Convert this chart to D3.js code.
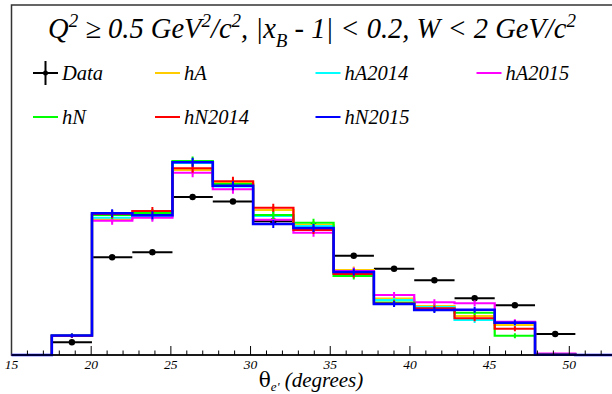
<!DOCTYPE html>
<meta charset="utf-8">
<title>theta e' distribution</title>
<style>
body { margin: 0; background: #fff; }
text { font-family: "Liberation Serif", "Times New Roman", serif; font-style: italic; }
</style>
<script src="https://d3js.org/d3.v7.min.js"></script>
<body>
<script>
var width = 612;
var height = 394;

// bin edges of the histograms (degrees)
var binEdges = [15, 17.53, 20.05, 22.58, 25.1, 27.63, 30.16, 32.69, 35.21, 37.74, 40.27, 42.8, 45.32, 47.85, 50.38, 52.9];

// bin contents, one value per bin (arbitrary units)
var data   = [null, 51, 391, 411, 632, 614, 535, 519, 397, 345, 299, 227, 199, 84, null];
var hA     = [0, 77, 543, 564, 740, 690, 580, 520, 340, 226, 196, 156, 120, 2, 0];
var hA2014 = [0, 77, 549, 554, 768, 674, 556, 516, 330, 220, 192, 140, 128, 2, 0];
var hA2015 = [0, 76, 537, 549, 729, 663, 541, 489, 336, 240, 211, 207, 133, 6, 0];
var hN     = [0, 78, 560, 568, 776, 684, 560, 529, 316, 210, 184, 169, 77, 2, 0];
var hN2014 = [0, 77, 564, 576, 747, 695, 589, 500, 324, 206, 187, 147, 105, 2, 0];
var hN2015 = [0, 78, 567, 559, 771, 677, 524, 508, 332, 204, 180, 181, 129, 1, 0];
var mcErr  = [0, 8, 16, 16, 18, 18, 16, 16, 14, 12, 12, 12, 10, 3, 0];
var dataErr = [0, 4, 8, 8, 9, 9, 8, 8, 8, 7, 7, 6, 6, 4, 0];

var series = [
  {name: "hA", values: hA, color: "#ffcc00"},
  {name: "hA2014", values: hA2014, color: "#00ffff"},
  {name: "hA2015", values: hA2015, color: "#ff00ff"},
  {name: "hN", values: hN, color: "#00ff00"},
  {name: "hN2014", values: hN2014, color: "#ff0000"},
  {name: "hN2015", values: hN2015, color: "#0000ff"}
];

var xTicks = [15, 20, 25, 30, 35, 40, 45, 50];

var svg = d3.select("body").append("svg")
    .attr("width", width)
    .attr("height", height);

var x = d3.scaleLinear().domain([15, 50]).range([11.5, 569.3]);
var y = d3.scaleLinear().domain([0, 1400]).range([355, 5]);

// frame
svg.append("rect")
    .attr("x", x(15)).attr("y", y(1400))
    .attr("width", 640).attr("height", y(0) - y(1400))
    .attr("fill", "none").attr("stroke", "#333").attr("stroke-width", 1.5);

// step paths
var step = d3.line()
    .x(function(d) { return x(d[0]); })
    .y(function(d) { return y(d[1]); })
    .curve(d3.curveStepAfter);

function stepPoints(vals) {
  var pts = [];
  vals.forEach(function(v, i) { pts.push([binEdges[i], v]); });
  pts.push([binEdges[binEdges.length - 1], 0]);
  pts.push([60, 0]);
  return pts;
}

// data points
var g = svg.append("g");
data.forEach(function(v, i) {
  if (v == null) return;
  var c = (binEdges[i] + binEdges[i + 1]) / 2;
  g.append("line")
      .attr("x1", x(binEdges[i])).attr("x2", x(binEdges[i + 1]))
      .attr("y1", y(v)).attr("y2", y(v))
      .attr("stroke", "#000").attr("stroke-width", 2);
  g.append("line")
      .attr("x1", x(c)).attr("x2", x(c))
      .attr("y1", y(v - dataErr[i])).attr("y2", y(v + dataErr[i]))
      .attr("stroke", "#000").attr("stroke-width", 2);
  g.append("circle")
      .attr("cx", x(c)).attr("cy", y(v)).attr("r", 3.2)
      .attr("fill", "#000");
});

series.forEach(function(s) {
  svg.append("path")
      .attr("d", step(stepPoints(s.values)))
      .attr("fill", "none")
      .attr("stroke", s.color)
      .attr("stroke-width", s.name == "hN2015" ? 2.6 : 2.2);
  s.values.forEach(function(v, i) {
    if (!mcErr[i] || v < 5) return;
    var c = (binEdges[i] + binEdges[i + 1]) / 2;
    svg.append("line")
        .attr("x1", x(c)).attr("x2", x(c))
        .attr("y1", y(v - mcErr[i])).attr("y2", y(v + mcErr[i]))
        .attr("stroke", s.color).attr("stroke-width", 2);
  });
});

// x axis
var ax = svg.append("g");
ax.append("line")
    .attr("x1", x(15)).attr("x2", 612)
    .attr("y1", y(0)).attr("y2", y(0))
    .attr("stroke", "#000").attr("stroke-width", 1.5);
d3.range(16, 53, 1).forEach(function(t) {
  var major = t % 5 == 0;
  ax.append("line")
      .attr("x1", x(t)).attr("x2", x(t))
      .attr("y1", y(0)).attr("y2", y(0) - (major ? 9 : 4.5))
      .attr("stroke", "#000").attr("stroke-width", 1);
});
ax.selectAll(".tl")
    .data(xTicks)
  .enter().append("text")
    .attr("class", "tl")
    .attr("x", function(d) { return x(d); })
    .attr("y", 369)
    .attr("text-anchor", "middle")
    .attr("font-size", 13.5)
    .text(function(d) { return d; });

var xl = svg.append("text")
    .attr("x", 311).attr("y", 387)
    .attr("text-anchor", "middle")
    .attr("font-size", 21);
xl.append("tspan").attr("font-style", "normal").attr("font-family", "DejaVu Serif").attr("font-size", 20).text("\u03b8");
xl.append("tspan").attr("dy", 3.5).attr("font-size", 13).text("e'");
xl.append("tspan").attr("dy", -3.5).text(" (degrees)");

// title: [text, baseline shift]
var titleParts = [
  ["Q", 0], ["2", -11], [" \u2265 0.5 GeV", 0], ["2", -11], ["/c", 0], ["2", -11],
  [", |x", 0], ["B", 9], [" - 1| < 0.2, W < 2 GeV/c", 0], ["2", -11]
];
var title = svg.append("text")
    .attr("x", 312).attr("y", 38)
    .attr("text-anchor", "middle")
    .attr("font-size", 28.5);
var shift = 0;
titleParts.forEach(function(p) {
  title.append("tspan")
      .attr("dy", p[1] - shift)
      .attr("font-size", p[1] == 0 ? 28.5 : 19)
      .text(p[0]);
  shift = p[1];
});

// legend
var legend = [
  {name: "Data", color: "#000", col: 0, row: 0},
  {name: "hA", color: "#ffcc00", col: 1, row: 0},
  {name: "hA2014", color: "#00ffff", col: 2, row: 0},
  {name: "hA2015", color: "#ff00ff", col: 3, row: 0},
  {name: "hN", color: "#00ff00", col: 0, row: 1},
  {name: "hN2014", color: "#ff0000", col: 1, row: 1},
  {name: "hN2015", color: "#0000ff", col: 2, row: 1}
];
var colX = [33, 155, 315.5, 476.5];
var rowY = [73, 117];
var lg = svg.append("g");
legend.forEach(function(d) {
  var lx = colX[d.col], ly = rowY[d.row];
  lg.append("line")
      .attr("x1", lx).attr("x2", lx + 25)
      .attr("y1", ly).attr("y2", ly)
      .attr("stroke", d.color).attr("stroke-width", 2);
  if (d.name == "Data") {
    lg.append("line")
        .attr("x1", lx + 12.5).attr("x2", lx + 12.5)
        .attr("y1", ly - 12).attr("y2", ly + 12)
        .attr("stroke", "#000").attr("stroke-width", 2);
    lg.append("circle").attr("cx", lx + 12.5).attr("cy", ly).attr("r", 2.5).attr("fill", "#000");
  }
  lg.append("text")
      .attr("x", lx + 29).attr("y", ly + 7)
      .attr("font-size", 20.5)
      .text(d.name);
});
</script>
